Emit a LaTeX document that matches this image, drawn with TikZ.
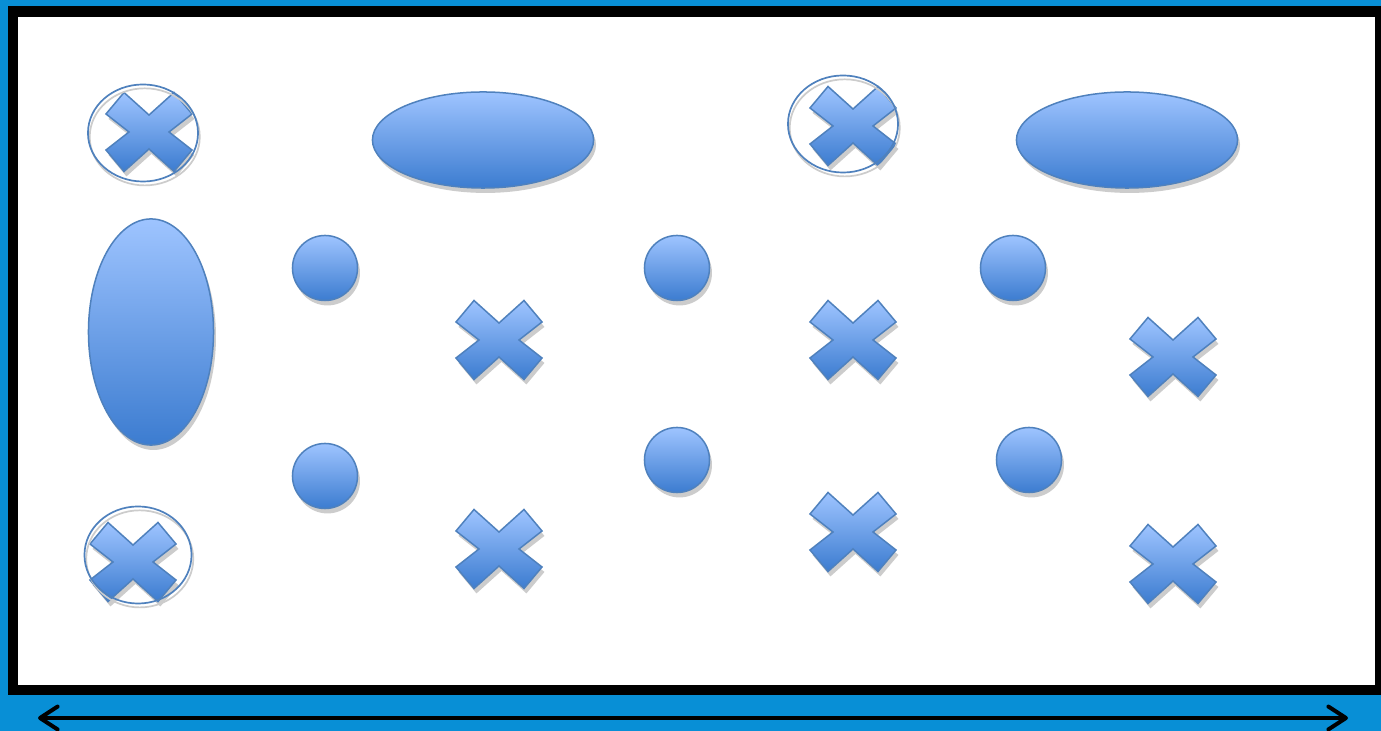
\documentclass[tikz,border=0pt]{standalone}
\usetikzlibrary{shapes.geometric,shadows,arrows.meta}

\definecolor{bgblue}{RGB}{8,143,214}
\definecolor{shapetop}{RGB}{158,196,255}
\definecolor{shapebot}{RGB}{60,124,208}
\definecolor{shapeline}{RGB}{79,129,189}

\tikzset{
    blob/.style   = {draw=shapeline, line width=0.015cm,
                     top color=shapetop, bottom color=shapebot,
                     drop shadow={shadow xshift=0.7pt, shadow yshift=-1.4pt,
                                  fill=black!20, opacity=1}},
    disc/.style   = {blob, circle, inner sep=0pt, minimum size=0.65cm},
    oval/.style   = {blob, ellipse, inner sep=0pt},
    ring/.style   = {ellipse, draw=shapeline, line width=0.017cm, inner sep=0pt,
                     preaction={draw=black!20,
                                transform canvas={xshift=0.5pt, yshift=-1.1pt}}},
    pics/xmark/.style = {code={
        \path[blob] (-43,-18) -- (-25,-39.5) -- (0,-17) -- (25,-39.5)
                    -- (43,-18) -- (20,0) -- (43,18) -- (25,39.5)
                    -- (0,17) -- (-25,39.5) -- (-43,18) -- (-20,0) -- cycle;
    }}
}

\begin{document}
\begin{tikzpicture}[x=0.01cm, y=-0.01cm]

% =========================================================
% BACKGROUND AND FRAME
% =========================================================
\useasboundingbox[fill=bgblue] (0,0) rectangle (1381,731);
\fill[white] (13,11.5) rectangle (1380,690);
\draw[line width=0.105cm] (13,11.5) rectangle (1380,690);

% =========================================================
% CROSSES IN RINGS
% =========================================================
\pic (r1x) at (149,132) {xmark};
\node[ring, minimum width=1.10cm, minimum height=0.97cm] (r1) at (143,133) {};

\pic (r2x) at (853,126) {xmark};
\node[ring, minimum width=1.10cm, minimum height=0.97cm] (r2) at (843,124) {};

\pic (r3x) at (133,562) {xmark};
\node[ring, minimum width=1.07cm, minimum height=0.97cm] (r3) at (138,555) {};

% =========================================================
% OVALS
% =========================================================
\node[oval, minimum width=2.21cm, minimum height=0.96cm] (o1) at (483,140) {};
\node[oval, minimum width=2.21cm, minimum height=0.96cm] (o2) at (1127,140) {};
\node[oval, minimum width=1.25cm, minimum height=2.26cm] (o3) at (151,332) {};

% =========================================================
% DISCS
% =========================================================
\node[disc] (d1) at (325,268) {};
\node[disc] (d2) at (325,476) {};
\node[disc] (d3) at (677,268) {};
\node[disc] (d4) at (677,460) {};
\node[disc] (d5) at (1013,268) {};
\node[disc] (d6) at (1029,460) {};

% =========================================================
% CROSSES
% =========================================================
\pic (m1) at (499,340) {xmark};
\pic (m2) at (499,549) {xmark};
\pic (m3) at (853,340) {xmark};
\pic (m4) at (853,532) {xmark};
\pic (m5) at (1173,357) {xmark};
\pic (m6) at (1173,564) {xmark};

% =========================================================
% WIDTH ARROW
% =========================================================
\coordinate (left)  at (38,718);
\coordinate (right) at (1348,718);
\draw[{Straight Barb[length=5pt,width=6.5pt,round]}-{Straight Barb[length=5pt,width=6.5pt,round]},
      line width=0.04cm] (left) -- (right);

\end{tikzpicture}
\end{document}
